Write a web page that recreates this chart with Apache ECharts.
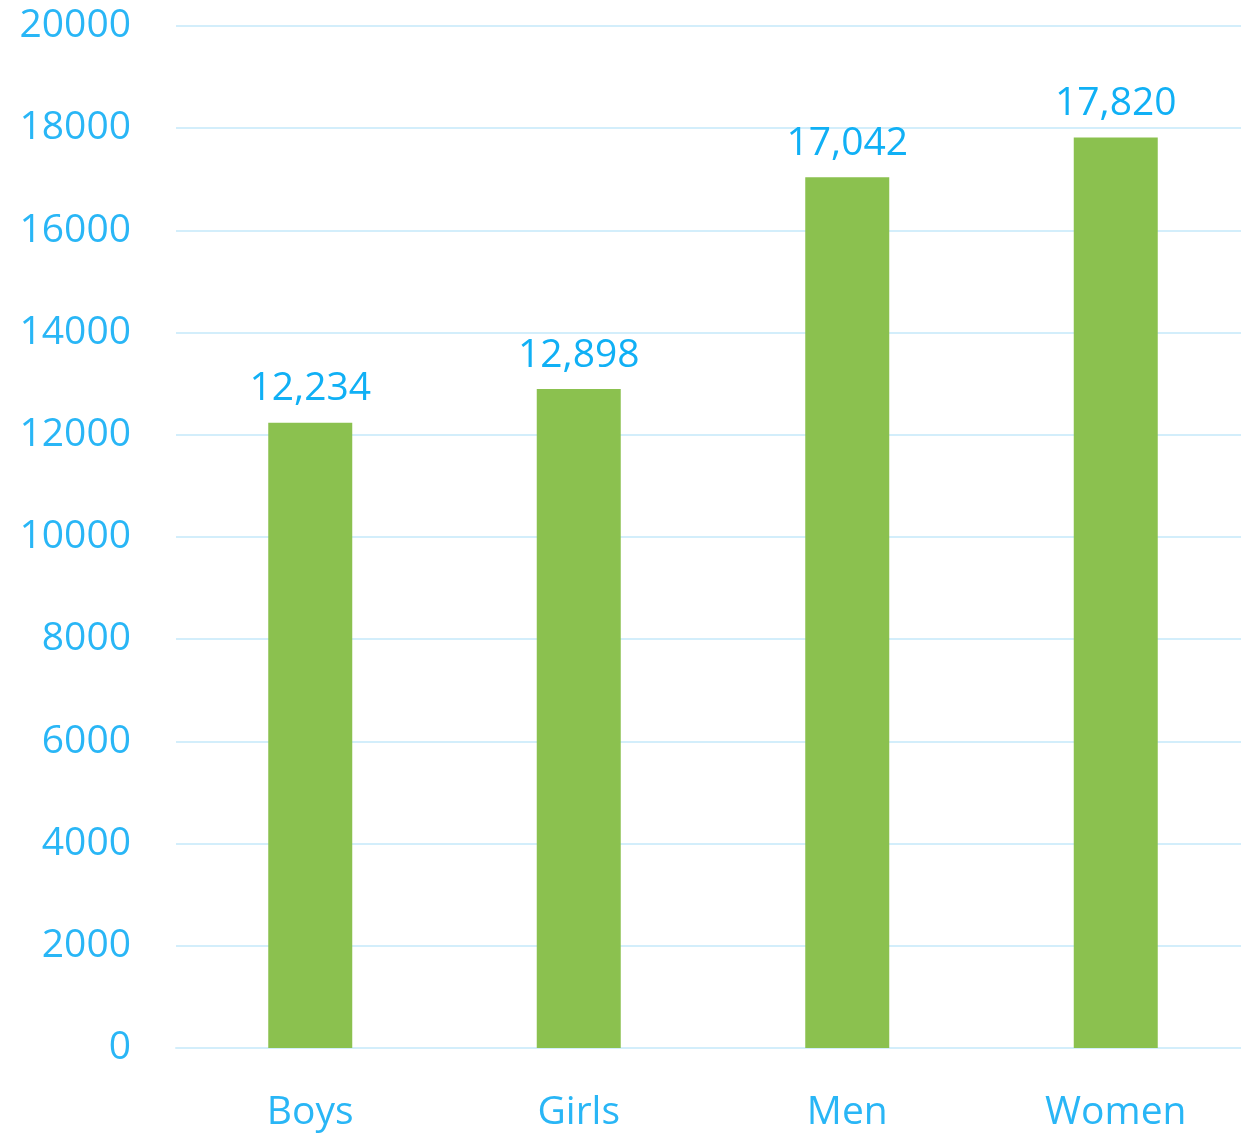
<!DOCTYPE html>
<html>
<head>
<meta charset="utf-8">
<script src="https://cdn.jsdelivr.net/npm/echarts@6/dist/echarts.min.js"></script>
<style>
  html, body { margin: 0; padding: 0; background: #fff; }
  #chart { width: 1241px; height: 1133px; }
</style>
</head>
<body>
<div id="chart"></div>
<script>
var categories = ['Boys', 'Girls', 'Men', 'Women'];
var values = [12234, 12898, 17042, 17820];

var chart = echarts.init(document.getElementById('chart'));
chart.setOption({
  animation: false,
  grid: { left: 176, right: -9, top: 26, bottom: 85, outerBoundsMode: 'none' },
  xAxis: {
    type: 'category',
    data: categories,
    axisLine: { lineStyle: { color: '#d3eefb', width: 2 } },
    axisTick: { show: false },
    axisLabel: {
      color: '#29b6f6',
      fontFamily: 'Open Sans',
      fontSize: 39,
      margin: 45
    }
  },
  yAxis: {
    type: 'value',
    min: 0,
    max: 20000,
    interval: 2000,
    axisLine: { show: false },
    axisTick: { show: false },
    splitLine: { lineStyle: { color: '#d3eefb', width: 2 } },
    axisLabel: {
      color: '#29b6f6',
      fontFamily: 'Open Sans',
      fontSize: 39,
      margin: 45,
      padding: [8, 0, 0, 0],
      formatter: function (v) { return String(v); }
    }
  },
  series: [{
    type: 'bar',
    data: values,
    barWidth: 84,
    itemStyle: { color: '#8bc14f' },
    label: {
      show: true,
      position: 'top',
      distance: 14,
      color: '#10b0f5',
      fontFamily: 'Open Sans',
      fontSize: 39,
      formatter: function (p) { return p.value.toLocaleString('en-US'); }
    }
  }]
});
</script>
</body>
</html>
